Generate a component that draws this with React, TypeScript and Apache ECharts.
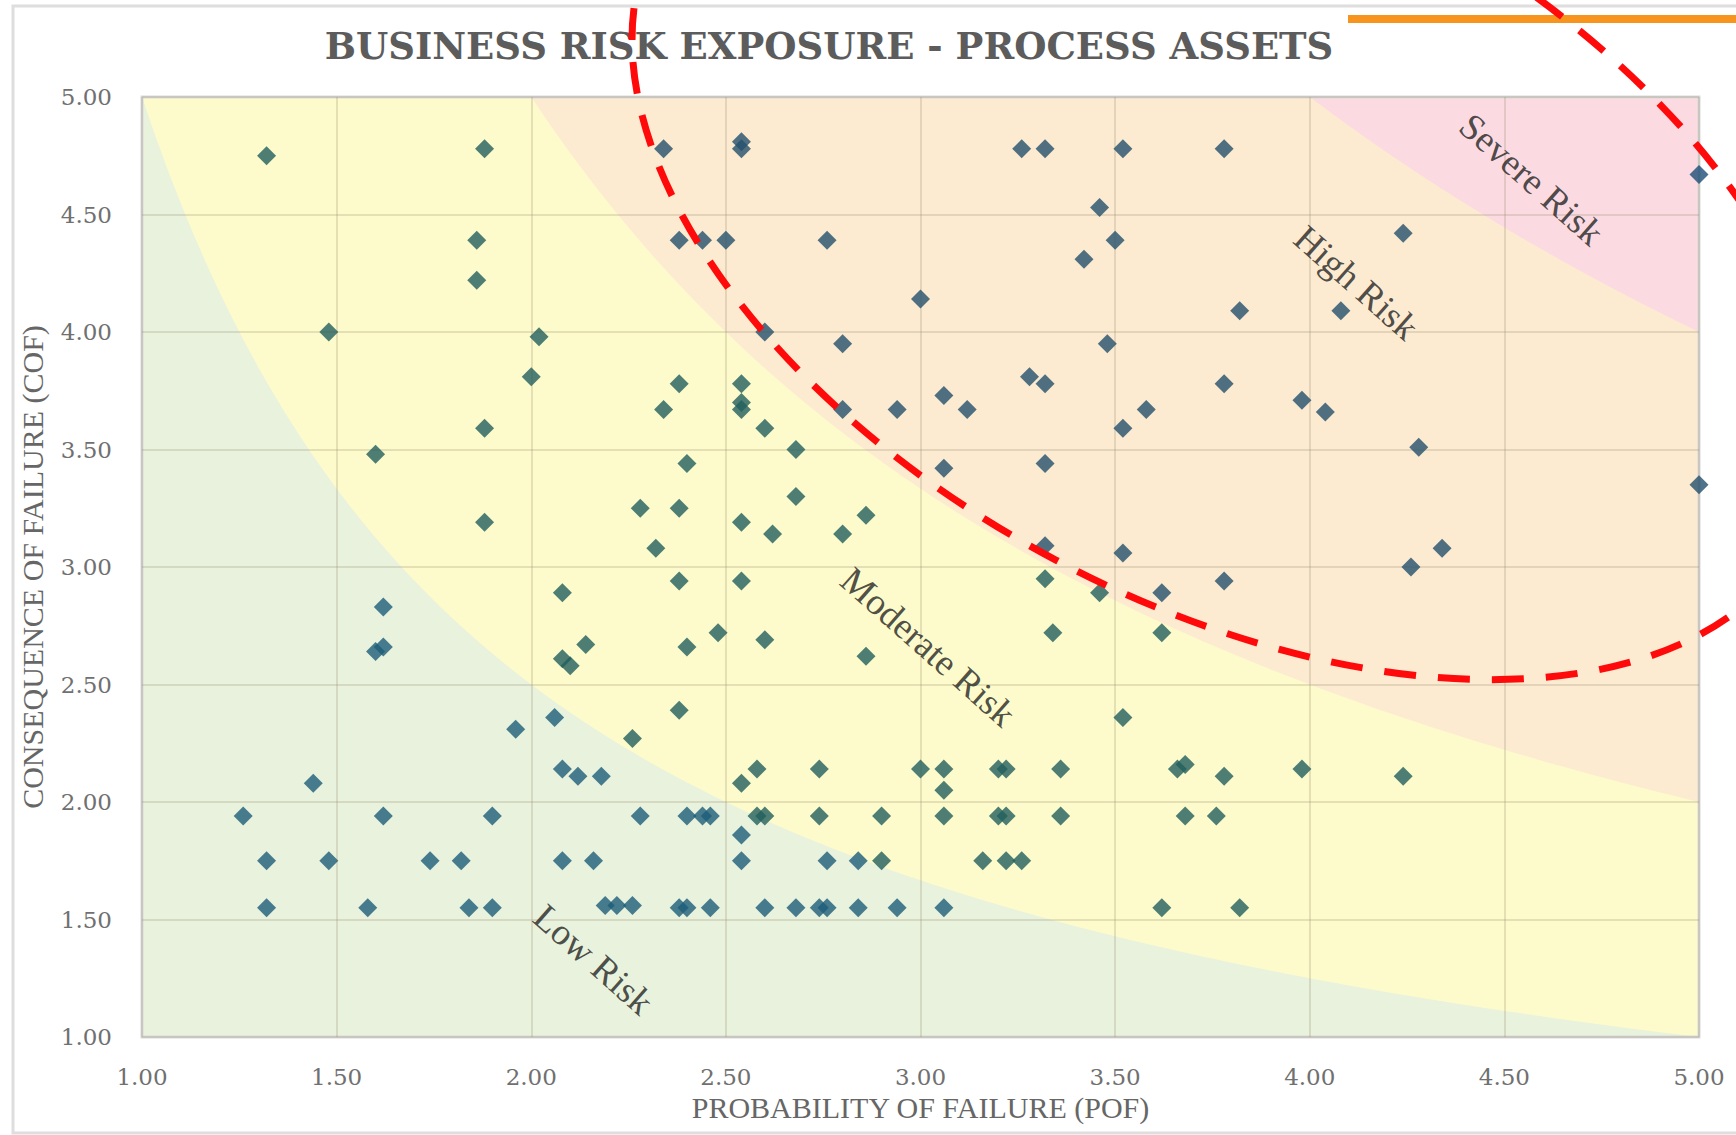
import React, { useEffect, useRef } from "react";
import * as echarts from "echarts";

const titleText = "BUSINESS RISK EXPOSURE - PROCESS ASSETS";
const xAxisName = "PROBABILITY OF FAILURE (POF)";
const yAxisName = "CONSEQUENCE OF FAILURE (COF)";
const axisMin = 1;
const axisMax = 5;
const axisStep = 0.5;

// Probability of failure (x) for each asset
const pof = [
  1.32, 1.88, 2.34, 2.54, 2.54, 3.26, 3.32, 3.52, 3.78,
  5.0, 3.46,
  1.86, 2.38, 2.44, 2.5, 2.76, 3.5, 4.24, 3.42, 1.86,
  3.0, 3.82, 4.08,
  1.48, 2.02, 2.6, 2.8, 3.48,
  2.0, 3.28, 2.38, 2.54, 3.32, 3.78,
  3.06, 3.98,
  2.34, 2.54, 2.54, 2.8, 2.94, 3.12, 3.58, 4.04,
  1.88, 2.6, 3.52, 2.68, 4.28, 1.6,
  2.4, 3.06, 3.32, 5.0, 2.68,
  2.28, 2.38, 2.86, 1.88, 2.54, 2.62, 2.8,
  2.32, 3.32, 4.34, 3.52, 4.26,
  2.38, 2.54, 3.32, 3.78,
  2.08, 3.46, 3.62, 1.62,
  2.48, 3.34, 3.62, 2.6,
  1.6, 1.62, 2.14, 2.4, 2.08, 2.1, 2.86,
  2.38, 2.06, 3.52, 1.96, 2.26,
  2.08, 2.12, 2.18, 2.58, 2.74, 3.0, 3.06, 3.2, 3.22, 3.36, 3.66, 3.68, 3.78, 3.98, 4.24,
  1.44, 2.54, 3.06,
  1.26, 1.62, 1.9, 2.28, 2.4, 2.44, 2.46, 2.58, 2.6, 2.74, 2.9, 3.06, 3.2, 3.22, 3.36, 3.68, 3.76,
  2.54,
  1.32, 1.48, 1.74, 1.82, 2.08, 2.16, 2.54, 2.76, 2.84, 2.9, 3.16, 3.22, 3.26,
  1.32, 1.58, 1.84, 1.9, 2.19, 2.22, 2.26, 2.38, 2.4, 2.46, 2.6, 2.68, 2.74, 2.76, 2.84, 2.94, 3.06, 3.62, 3.82,
];

// Consequence of failure (y) for each asset
const cof = [
  4.75, 4.78, 4.78, 4.81, 4.78, 4.78, 4.78, 4.78, 4.78,
  4.67, 4.53,
  4.39, 4.39, 4.39, 4.39, 4.39, 4.39, 4.42, 4.31, 4.22,
  4.14, 4.09, 4.09,
  4.0, 3.98, 4.0, 3.95, 3.95,
  3.81, 3.81, 3.78, 3.78, 3.78, 3.78,
  3.73, 3.71,
  3.67, 3.7, 3.67, 3.67, 3.67, 3.67, 3.67, 3.66,
  3.59, 3.59, 3.59, 3.5, 3.51, 3.48,
  3.44, 3.42, 3.44, 3.35, 3.3,
  3.25, 3.25, 3.22, 3.19, 3.19, 3.14, 3.14,
  3.08, 3.09, 3.08, 3.06, 3.0,
  2.94, 2.94, 2.95, 2.94,
  2.89, 2.89, 2.89, 2.83,
  2.72, 2.72, 2.72, 2.69,
  2.64, 2.66, 2.67, 2.66, 2.61, 2.58, 2.62,
  2.39, 2.36, 2.36, 2.31, 2.27,
  2.14, 2.11, 2.11, 2.14, 2.14, 2.14, 2.14, 2.14, 2.14, 2.14, 2.14, 2.16, 2.11, 2.14, 2.11,
  2.08, 2.08, 2.05,
  1.94, 1.94, 1.94, 1.94, 1.94, 1.94, 1.94, 1.94, 1.94, 1.94, 1.94, 1.94, 1.94, 1.94, 1.94, 1.94, 1.94,
  1.86,
  1.75, 1.75, 1.75, 1.75, 1.75, 1.75, 1.75, 1.75, 1.75, 1.75, 1.75, 1.75, 1.75,
  1.55, 1.55, 1.55, 1.55, 1.56, 1.56, 1.56, 1.55, 1.55, 1.55, 1.55, 1.55, 1.55, 1.55, 1.55, 1.55, 1.55, 1.55, 1.55,
];

// Risk zones: POF x COF lower thresholds
const zoneThresholds = [0, 5, 10, 20];
const zoneNames = ["Low Risk", "Moderate Risk", "High Risk", "Severe Risk"];
const zoneLabelPof = [2.16, 3.02, 4.12, 4.57];
const zoneLabelCof = [1.33, 2.66, 4.21, 4.65];

const zoneFill = ["#e9f2dc", "#fdfbcb", "#fcebd1", "#fbdbe1"];
const pointColors = ["#1c5d79", "#225f5d", "#23506d", "#1d4c78"];
const serif = "'Liberation Serif', 'DejaVu Serif', serif";
const tickFont = "'DejaVu Serif', 'Liberation Serif', serif";

function zoneIndex(x: number, y: number): number {
  const r = x * y;
  let idx = 0;
  zoneThresholds.forEach((t, i) => {
    if (r >= t) idx = i;
  });
  return idx;
}

export default function App() {
  const ref = useRef<HTMLDivElement>(null);

  useEffect(() => {
    if (!ref.current) return;
    const chart = echarts.init(ref.current, null, { renderer: "svg" });
    const points = pof.map((x, i) => [x, cof[i]]);

    const option: any = {
      animation: false,
      backgroundColor: "#ffffff",
      title: {
        text: titleText,
        left: 829,
        top: 27,
        textAlign: "center",
        padding: 0,
        textStyle: {
          fontFamily: "'DejaVu Serif', serif",
          fontWeight: "bold",
          fontSize: 37,
          color: "#5c5c5c",
        },
      },
      grid: {
        left: 142,
        right: 37,
        top: 97,
        bottom: 98,
        show: true,
        borderColor: "#d9d9d9",
        borderWidth: 3,
        backgroundColor: "transparent",
        containLabel: false,
      },
      xAxis: {
        type: "value",
        min: axisMin,
        max: axisMax,
        interval: axisStep,
        name: xAxisName,
        nameLocation: "middle",
        nameGap: 55,
        nameTextStyle: { fontFamily: serif, fontSize: 30, color: "#666666" },
        axisLine: { show: false },
        axisTick: { show: false },
        axisLabel: {
          formatter: (v: number) => v.toFixed(2),
          margin: 28,
          fontFamily: tickFont,
          fontSize: 23,
          color: "#707070",
        },
        splitLine: { show: true, lineStyle: { color: "rgba(150,140,110,0.32)", width: 1.5 } },
      },
      yAxis: {
        type: "value",
        min: axisMin,
        max: axisMax,
        interval: axisStep,
        name: yAxisName,
        nameLocation: "middle",
        nameGap: 95,
        nameTextStyle: { fontFamily: serif, fontSize: 30, color: "#666666" },
        axisLine: { show: false },
        axisTick: { show: false },
        axisLabel: {
          formatter: (v: number) => v.toFixed(2),
          margin: 30,
          fontFamily: tickFont,
          fontSize: 23,
          color: "#707070",
        },
        splitLine: { show: true, lineStyle: { color: "rgba(150,140,110,0.32)", width: 1.5 } },
      },
      series: [
        {
          type: "custom",
          name: "zones",
          z: -1,
          silent: true,
          clip: true,
          data: zoneThresholds.map(() => [axisMin, axisMin]),
          renderItem: (params: any, api: any) => {
            const idx = params.dataIndex;
            const c = zoneThresholds[idx];
            let pts: number[][];
            if (c <= axisMin * axisMin) {
              pts = [
                [axisMin, axisMin],
                [axisMax, axisMin],
                [axisMax, axisMax],
                [axisMin, axisMax],
              ];
            } else {
              pts = [];
              const x0 = Math.max(axisMin, c / axisMax);
              const x1 = Math.min(axisMax, c / axisMin);
              const N = 120;
              for (let k = 0; k <= N; k++) {
                const x = x0 + ((x1 - x0) * k) / N;
                pts.push([x, c / x]);
              }
              pts.push([axisMax, axisMax]);
            }
            return {
              type: "polygon",
              shape: { points: pts.map((p) => api.coord(p)) },
              style: { fill: zoneFill[idx] },
            };
          },
        },
        {
          type: "scatter",
          name: "assets",
          symbol: "diamond",
          symbolSize: 19,
          z: 3,
          data: points,
          itemStyle: {
            color: (p: any) => pointColors[zoneIndex(p.value[0], p.value[1])],
          },
        },
        {
          type: "scatter",
          name: "zoneLabels",
          symbol: "circle",
          symbolSize: 1,
          silent: true,
          z: 4,
          itemStyle: { color: "rgba(0,0,0,0)" },
          data: zoneNames.map((n, i) => [zoneLabelPof[i], zoneLabelCof[i]]),
          label: {
            show: true,
            position: "inside",
            rotate: -41.5,
            formatter: (p: any) => zoneNames[p.dataIndex],
            fontFamily: serif,
            fontSize: 37,
            color: "#222222",
          },
        },
      ],
      graphic: [
        {
          type: "rect",
          z: 50,
          silent: true,
          shape: { x: 13, y: 6, width: 1800, height: 1127 },
          style: { fill: "none", stroke: "#dedede", lineWidth: 3 },
        },
        {
          type: "rect",
          z: 60,
          silent: true,
          shape: { x: 1348, y: 15, width: 400, height: 8 },
          style: { fill: "#f7941d" },
        },
        {
          type: "ellipse",
          z: 70,
          silent: true,
          x: 1228,
          y: 236,
          rotation: (-28 * Math.PI) / 180,
          shape: { cx: 0, cy: 0, rx: 646, ry: 367 },
          style: { fill: "none", stroke: "#ff0a0a", lineWidth: 7, lineDash: [32, 22] },
        },
      ],
    };

    chart.setOption(option);
    return () => chart.dispose();
  }, []);

  return (
    <div
      ref={ref}
      style={{ position: "absolute", left: 0, top: 0, width: 1736, height: 1135 }}
    />
  );
}
